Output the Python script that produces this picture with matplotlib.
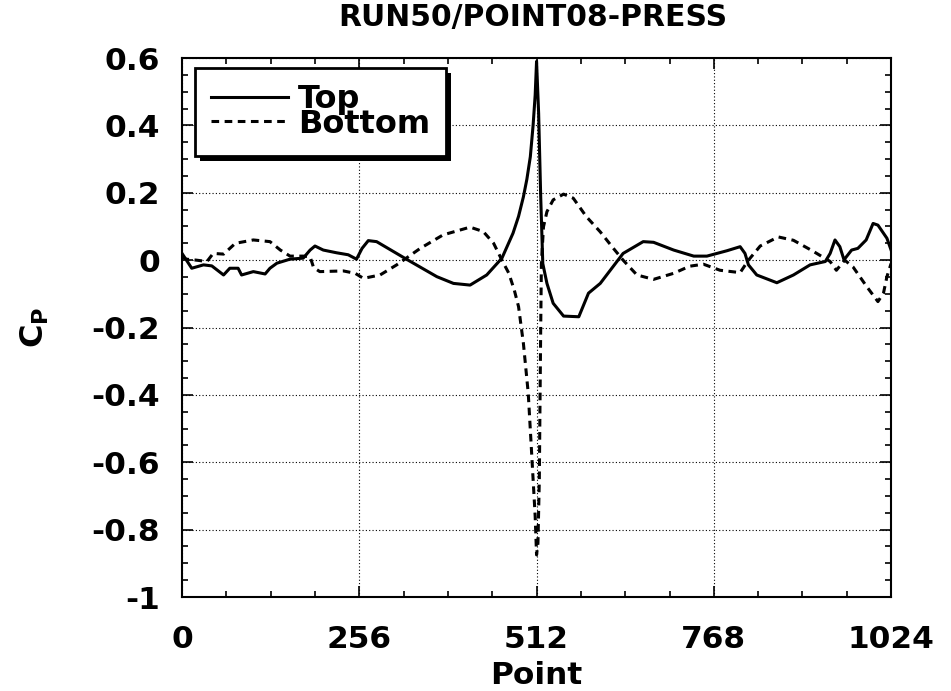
import matplotlib
matplotlib.use("Agg")
import matplotlib.pyplot as plt
from matplotlib.patches import Rectangle
from matplotlib.ticker import MultipleLocator

plt.rcParams["font.family"] = ["DejaVu Sans"]
plt.rcParams["font.weight"] = "bold"
plt.rcParams["axes.unicode_minus"] = False
plt.rcParams["mathtext.fontset"] = "dejavusans"

# pressure coefficient along the upper surface
top_x = [0, 14, 31, 43, 60, 69, 81, 86, 103, 120, 127, 137, 156, 175, 185, 192,
         204, 223, 240, 252, 260, 269, 281, 324, 368, 392, 416, 440, 462, 478,
         486, 493, 498, 503, 507, 510, 512, 515, 518, 521, 527, 536, 551, 573,
         587, 604, 637, 666, 681, 710, 739, 758, 787, 806, 813, 818, 830, 859,
         883, 907, 929, 936, 943, 950, 956, 967, 976, 988, 998, 1005, 1018,
         1024]
top_cp = [0.02, -0.024, -0.014, -0.017, -0.044, -0.024, -0.024, -0.044, -0.034,
          -0.041, -0.024, -0.009, 0.003, 0.006, 0.030, 0.042, 0.030, 0.022,
          0.016, 0.003, 0.035, 0.058, 0.055, 0.003, -0.049, -0.069, -0.074,
          -0.044, 0.006, 0.080, 0.13, 0.188, 0.24, 0.307, 0.40, 0.49, 0.59,
          0.436, 0.188, -0.01, -0.069, -0.128, -0.166, -0.168, -0.098, -0.069,
          0.020, 0.055, 0.053, 0.030, 0.012, 0.012, 0.028, 0.040, 0.020, -0.014,
          -0.044, -0.067, -0.044, -0.014, -0.004, 0.020, 0.060, 0.040, 0.001,
          0.030, 0.035, 0.060, 0.109, 0.104, 0.065, 0.030]

# pressure coefficient along the lower surface
bottom_x = [0, 6, 21, 36, 45, 60, 77, 103, 127, 142, 156, 175, 185, 190, 199,
            233, 250, 262, 286, 310, 344, 377, 416, 435, 450, 462, 472, 480,
            486, 493, 500, 504, 507, 510, 512, 514, 516, 517, 518, 519, 522,
            527, 536, 551, 565, 584, 604, 623, 637, 657, 681, 710, 733, 753,
            777, 806, 818, 835, 861, 883, 911, 936, 945, 957, 969, 989, 1005,
            1013, 1018, 1024]
bottom_cp = [0.010, 0.003, 0.0, -0.004, 0.020, 0.018, 0.050, 0.060, 0.055,
             0.030, 0.012, 0.012, 0.010, -0.022, -0.034, -0.032, -0.039, -0.054,
             -0.044, -0.014, 0.035, 0.075, 0.098, 0.085, 0.050, 0.0, -0.039,
             -0.09, -0.138, -0.247, -0.395, -0.54, -0.65, -0.76, -0.875, -0.84,
             -0.65, -0.42, -0.2, -0.01, 0.099, 0.144, 0.179, 0.196, 0.184, 0.129,
             0.084, 0.035, 0.0, -0.044, -0.057, -0.039, -0.018, -0.012, -0.030,
             -0.037, 0.0, 0.042, 0.069, 0.059, 0.027, -0.004, -0.030, 0.0,
             -0.020, -0.079, -0.123, -0.098, -0.049, -0.01]

x_ticks = [0, 256, 512, 768, 1024]
y_ticks = [0.6, 0.4, 0.2, 0.0, -0.2, -0.4, -0.6, -0.8, -1.0]
y_tick_labels = ["0.6", "0.4", "0.2", "0", "-0.2", "-0.4", "-0.6", "-0.8", "-1"]

fig = plt.figure(figsize=(9.51, 6.91), dpi=100)
ax = fig.add_axes([0.1914, 0.136, 0.7456, 0.780])

ax.plot(top_x, top_cp, color="black", lw=2.2, label="Top")
ax.plot(bottom_x, bottom_cp, color="black", lw=2.2, dashes=(2.5, 1.8),
        label="Bottom")

ax.set_xlim(0, 1024)
ax.set_ylim(-1.0, 0.6)
ax.set_xticks(x_ticks)
ax.set_xticklabels([str(v) for v in x_ticks])
ax.set_yticks(y_ticks)
ax.set_yticklabels(y_tick_labels)
ax.xaxis.set_minor_locator(MultipleLocator(64))
ax.yaxis.set_minor_locator(MultipleLocator(0.05))
ax.tick_params(which="both", direction="in", top=True, right=True,
               color="black", width=1.2)
ax.tick_params(which="major", length=8, labelsize=22.5)
ax.tick_params(axis="x", which="major", pad=20)
ax.tick_params(axis="y", which="major", pad=16)
ax.tick_params(which="minor", length=4)
ax.grid(True, which="major", color="black", lw=0.8, linestyle=(0, (1, 2)))
for s in ax.spines.values():
    s.set_linewidth(1.5)

ax.set_xlabel("Point", fontsize=22.5, fontweight="bold", labelpad=5)
ax.set_ylabel(r"$\mathbf{C_P}$", fontsize=23)
ax.yaxis.set_label_coords(-0.185, 0.5)

leg = ax.legend(loc="upper left", bbox_to_anchor=(0.0183, 0.9814),
                fontsize=23, frameon=True, fancybox=False,
                edgecolor="black", framealpha=1, borderaxespad=0,
                handlelength=2.4, handletextpad=0.33, labelspacing=-0.2,
                borderpad=0.5)
leg.get_frame().set_linewidth(2)
for line in leg.get_lines():
    line.set_linewidth(2.2)

# solid drop shadow behind the legend box
fig.canvas.draw()
bb = leg.get_window_extent().transformed(ax.transAxes.inverted())
dx = 5 / (ax.bbox.width)
dy = 5 / (ax.bbox.height)
ax.add_patch(Rectangle((bb.x0 + dx, bb.y0 - dy), bb.width, bb.height,
                       transform=ax.transAxes, facecolor="black",
                       edgecolor="none", zorder=leg.get_zorder() - 0.1))

fig.text(0.560, 0.974, "RUN50/POINT08-PRESS", ha="center", va="center",
         fontsize=21.5, fontweight="bold")

fig.savefig("out.png", dpi=100)
